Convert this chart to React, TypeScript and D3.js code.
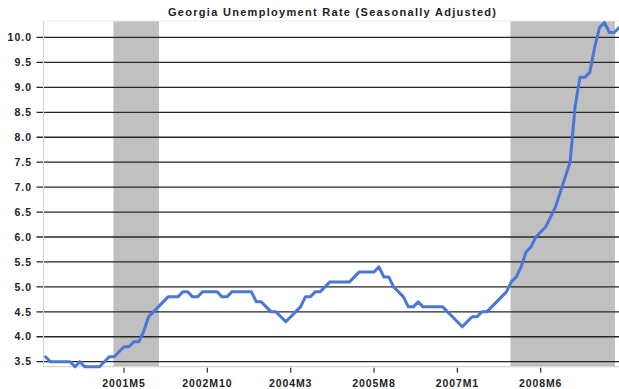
import React from "react";
import * as d3 from "d3";

const title = "Georgia Unemployment Rate (Seasonally Adjusted)";
const startYear = 2000;
// Monthly values, 2000M1 .. 2009M10
const rate = [
  3.6, 3.5, 3.5, 3.5, 3.5, 3.5, 3.4, 3.5, 3.4, 3.4, 3.4, 3.4,
  3.5, 3.6, 3.6, 3.7, 3.8, 3.8, 3.9, 3.9, 4.1, 4.4, 4.5, 4.6,
  4.7, 4.8, 4.8, 4.8, 4.9, 4.9, 4.8, 4.8, 4.9, 4.9, 4.9, 4.9,
  4.8, 4.8, 4.9, 4.9, 4.9, 4.9, 4.9, 4.7, 4.7, 4.6, 4.5, 4.5,
  4.4, 4.3, 4.4, 4.5, 4.6, 4.8, 4.8, 4.9, 4.9, 5.0, 5.1, 5.1,
  5.1, 5.1, 5.1, 5.2, 5.3, 5.3, 5.3, 5.3, 5.4, 5.2, 5.2, 5.0,
  4.9, 4.8, 4.6, 4.6, 4.7, 4.6, 4.6, 4.6, 4.6, 4.6, 4.5, 4.4,
  4.3, 4.2, 4.3, 4.4, 4.4, 4.5, 4.5, 4.6, 4.7, 4.8, 4.9, 5.1,
  5.2, 5.4, 5.7, 5.8, 6.0, 6.1, 6.2, 6.4, 6.6, 6.9, 7.2, 7.5,
  8.6, 9.2, 9.2, 9.3, 9.8, 10.2, 10.3, 10.1, 10.1, 10.2,
];
const months = rate.map(
  (_, i) => `${startYear + Math.floor(i / 12)}M${(i % 12) + 1}`
);
const xTickLabels = ["2001M5", "2002M10", "2004M3", "2005M8", "2007M1", "2008M6"];
const yTicks = [3.5, 4.0, 4.5, 5.0, 5.5, 6.0, 6.5, 7.0, 7.5, 8.0, 8.5, 9.0, 9.5, 10.0];
const recessions: [string, string][] = [
  ["2001M3", "2001M12"],
  ["2007M12", "2009M9"],
];

const W = 619;
const H = 389;
const left = 43.1;
const right = 621.6;
const top = 21;
const bottom = 366.7;

export default function App() {
  const x = d3.scaleBand<string>().domain(months).range([left, right]).padding(0);
  const cx = (m: string) => (x(m) as number) + x.bandwidth() / 2;
  const y = d3.scaleLinear().domain([3.4, 10.33]).range([bottom, top]);

  const line = d3
    .line<number>()
    .x((_, i) => cx(months[i]))
    .y((d) => y(d));

  const font = "'Liberation Sans', Arial, sans-serif";
  const textColor = "#222";

  return (
    <svg
      width={W}
      height={H}
      style={{ position: "absolute", left: 0, top: 0, background: "#fff" }}
    >
      <rect x={0} y={0} width={W} height={H} fill="#fff" />
      {/* recession shading */}
      {recessions.map(([s, e], i) => (
        <rect
          key={i}
          x={cx(s) - 0.8}
          y={top}
          width={cx(e) + 0.7 - (cx(s) - 0.8)}
          height={bottom - top}
          fill="#c0c0c0"
        />
      ))}
      {/* top border */}
      <line x1={left} x2={right} y1={top} y2={top} stroke="#ececec" strokeWidth={1} />
      {/* gridlines */}
      {yTicks.map((t) => (
        <line
          key={t}
          x1={36.5}
          x2={right}
          y1={y(t)}
          y2={y(t)}
          stroke="#262626"
          strokeWidth={1.3}
        />
      ))}
      {/* axes */}
      <line x1={left + 0.4} x2={left + 0.4} y1={top} y2={bottom} stroke="#d4d4d4" strokeWidth={1.2} />
      <line x1={left} x2={right} y1={bottom} y2={bottom} stroke="#d4d4d4" strokeWidth={1.2} />
      {/* x ticks */}
      {xTickLabels.map((m) => (
        <g key={m}>
          <line x1={cx(m)} x2={cx(m)} y1={bottom + 1} y2={bottom + 6} stroke="#333" strokeWidth={1.2} />
          <text
            x={cx(m)}
            y={386.5}
            textAnchor="middle"
            fontFamily={font}
            fontWeight="bold"
            fontSize={10.5}
            letterSpacing={0.9}
            fill={textColor}
          >
            {m}
          </text>
        </g>
      ))}
      {/* y labels */}
      {yTicks.map((t) => (
        <text
          key={t}
          x={32}
          y={y(t) + 3.7}
          textAnchor="end"
          fontFamily={font}
          fontWeight="bold"
          fontSize={10.5}
          letterSpacing={1}
          fill={textColor}
        >
          {t.toFixed(1)}
        </text>
      ))}
      {/* data line */}
      <path
        d={line(rate) || ""}
        fill="none"
        stroke="#4a76d8"
        strokeWidth={3}
        strokeLinejoin="round"
        strokeLinecap="round"
      />
      {/* title */}
      <text
        x={168}
        y={16.3}
        fontFamily={font}
        fontWeight="bold"
        fontSize={11}
        textLength={328}
        lengthAdjust="spacing"
        fill={textColor}
      >
        {title}
      </text>
    </svg>
  );
}
